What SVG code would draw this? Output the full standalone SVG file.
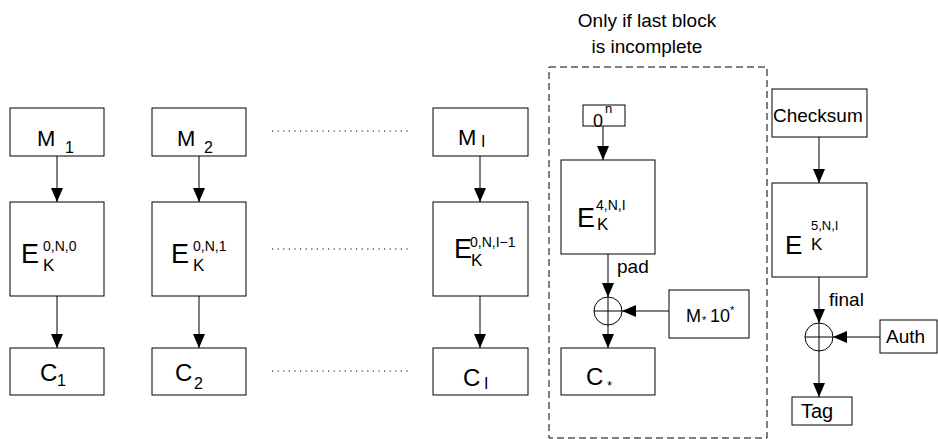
<svg xmlns="http://www.w3.org/2000/svg" width="938" height="439" viewBox="0 0 938 439">
<defs>
<marker id="ah" markerUnits="userSpaceOnUse" markerWidth="14" markerHeight="12" refX="14" refY="6" orient="auto">
<path d="M0,0 L14,6 L0,12 z" fill="#000"/>
</marker>
<style>
.b{fill:#fff;stroke:#000;stroke-width:1}
.t{font-family:"Liberation Sans",Arial,sans-serif;fill:#000}
.c{fill:none;stroke:#000;stroke-width:1;marker-end:url(#ah)}
.d{fill:none;stroke:#000;stroke-width:1;stroke-dasharray:1.2,4.4}
.x{fill:none;stroke:#000;stroke-width:1}
</style>
</defs>
<rect width="938" height="439" fill="#fff"/>
<g id="connectors">
<path class="c" d="M57,156 V202"/>
<path class="c" d="M199,156 V202"/>
<path class="c" d="M480,156 V202"/>
<path class="c" d="M57,296 V348"/>
<path class="c" d="M199,296 V348"/>
<path class="c" d="M480,296 V348"/>
<path class="c" d="M603,126 V160"/>
<path class="c" d="M608,254 V297"/>
<path class="c" d="M669,311 H622"/>
<path class="c" d="M608,325 V348"/>
<path class="c" d="M819,137 V183"/>
<path class="c" d="M819,277 V323"/>
<path class="c" d="M880,337 H833"/>
<path class="c" d="M819,351 V397"/>
<path class="d" d="M272,131 H410"/>
<path class="d" d="M272,249 H410"/>
<path class="d" d="M272,371 H410"/>
</g>
<g id="region">
<rect x="549" y="67" width="218" height="371" fill="none" stroke="#000" stroke-width="1" stroke-dasharray="7,4"/>
<text class="t" font-size="19" text-anchor="middle" x="647" y="27">Only if last block</text>
<text class="t" font-size="19" text-anchor="middle" x="647" y="53">is incomplete</text>
</g>
<g id="m1"><rect class="b" x="10" y="108" width="94" height="48"/><text class="t" font-size="22" x="37" y="146">M<tspan font-size="16" x="65" y="153">1</tspan></text></g>
<g id="m2"><rect class="b" x="152" y="108" width="94" height="48"/><text class="t" font-size="22" x="177" y="146">M<tspan font-size="16" x="204" y="153">2</tspan></text></g>
<g id="mi"><rect class="b" x="433" y="108" width="95" height="48"/><text class="t" font-size="22" x="458" y="145">M<tspan font-size="16" x="481" y="147">I</tspan></text></g>
<g id="e1"><rect class="b" x="10" y="202" width="94" height="94"/><text class="t" font-size="27" x="21" y="263">E</text><text class="t" font-size="14" x="43" y="251">0,N,0</text><text class="t" font-size="17" x="43" y="271">K</text></g>
<g id="e2"><rect class="b" x="152" y="202" width="94" height="94"/><text class="t" font-size="27" x="171" y="263">E</text><text class="t" font-size="14" x="193" y="251">0,N,1</text><text class="t" font-size="17" x="193" y="271">K</text></g>
<g id="ei"><rect class="b" x="433" y="202" width="95" height="94"/><text class="t" font-size="27" x="454" y="258">E</text><text class="t" font-size="14" x="470" y="247">0,N,I−1</text><text class="t" font-size="17" x="471" y="266">K</text></g>
<g id="c1"><rect class="b" x="10" y="348" width="94" height="47"/><text class="t" font-size="24" x="40" y="381">C<tspan font-size="16" x="57" y="386">1</tspan></text></g>
<g id="c2"><rect class="b" x="152" y="348" width="94" height="47"/><text class="t" font-size="24" x="175" y="381">C<tspan font-size="16" x="194" y="389">2</tspan></text></g>
<g id="ci"><rect class="b" x="433" y="348" width="95" height="47"/><text class="t" font-size="24" x="463" y="386">C<tspan font-size="16" x="484" y="389">I</tspan></text></g>
<g id="zero"><rect class="b" x="583" y="105" width="42" height="21"/><text class="t" font-size="18" x="593" y="127">0<tspan font-size="13" x="605" y="113">n</tspan></text></g>
<g id="e4"><rect class="b" x="561" y="160" width="94" height="94"/><text class="t" font-size="27" x="577" y="227">E</text><text class="t" font-size="14" x="596" y="210">4,N,I</text><text class="t" font-size="17" x="597" y="230">K</text><text class="t" font-size="19" x="617" y="273">pad</text></g>
<g id="xor1"><circle class="x" cx="608" cy="311" r="14"/><path class="x" d="M594,311 H622 M608,297 V325"/></g>
<g id="mstar"><rect class="b" x="669" y="290" width="80" height="48"/><text class="t" font-size="18" x="686" y="322">M<tspan font-size="11" x="702" y="324">*</tspan><tspan x="710" y="322">10</tspan><tspan font-size="11" x="730" y="314">*</tspan></text></g>
<g id="cstar"><rect class="b" x="561" y="348" width="94" height="47"/><text class="t" font-size="24" x="586" y="385">C<tspan font-size="13" x="607" y="390">*</tspan></text></g>
<g id="checksum"><rect class="b" x="772" y="89" width="95" height="48"/><text class="t" font-size="19" x="773" y="122">Checksum</text></g>
<g id="e5"><rect class="b" x="772" y="183" width="95" height="94"/><text class="t" font-size="26" x="785" y="254">E</text><text class="t" font-size="13" x="811" y="230">5,N,I</text><text class="t" font-size="17" x="811" y="250">K</text><text class="t" font-size="19" x="829" y="306">final</text></g>
<g id="xor2"><circle class="x" cx="819" cy="337" r="14"/><path class="x" d="M805,337 H833 M819,323 V351"/></g>
<g id="auth"><rect class="b" x="880" y="320" width="57" height="33"/><text class="t" font-size="19" x="886" y="343">Auth</text></g>
<g id="tag"><rect class="b" x="792" y="397" width="60" height="28"/><text class="t" font-size="20" x="801" y="418">Tag</text></g>
</svg>
